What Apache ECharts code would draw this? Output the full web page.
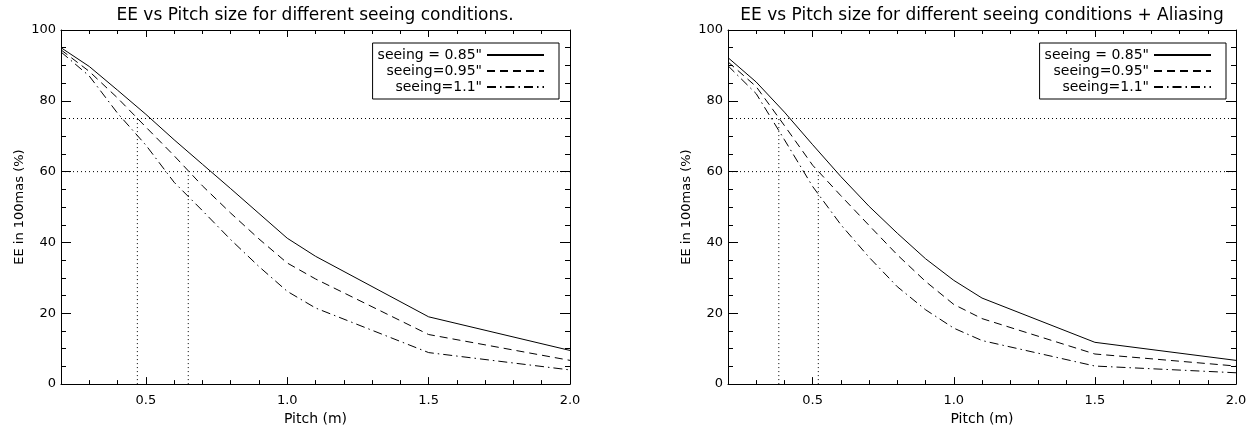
<!DOCTYPE html>
<html>
<head>
<meta charset="utf-8">
<script src="https://cdn.jsdelivr.net/npm/echarts@6/dist/echarts.min.js"></script>
<style>
  html, body { margin: 0; padding: 0; background: #fff; }
  #chart { width: 1257px; height: 431px; }
</style>
</head>
<body>
<div id="chart"></div>
<script>
// pitch (m) sampled for every curve
var pitch = [0.2, 0.3, 0.4, 0.5, 0.6, 0.7, 0.8, 0.9, 1.0, 1.1, 1.5, 2.0]

// EE in 100mas (%), no aliasing
var ee085 = [95.0, 89.7, 83.0, 76.2, 69.0, 62.1, 55.2, 48.2, 41.2, 36.1, 19.0, 9.5]
var ee095 = [94.4, 88.3, 80.8, 72.6, 64.5, 56.0, 48.3, 41.0, 34.2, 29.7, 14.0, 6.7]
var ee110 = [93.8, 87.0, 76.5, 67.5, 57.0, 49.0, 40.8, 33.2, 26.2, 21.5, 8.9, 4.0]

// EE in 100mas (%), with aliasing
var eeAl085 = [92.2, 85.3, 76.8, 67.6, 58.6, 50.2, 42.6, 35.4, 29.3, 24.3, 11.8, 6.7]
var eeAl095 = [91.0, 84.0, 73.0, 61.8, 53.2, 44.8, 36.5, 29.0, 22.5, 18.5, 8.5, 5.1]
var eeAl110 = [89.9, 82.0, 69.0, 55.8, 45.0, 35.8, 27.5, 21.0, 15.8, 12.3, 5.1, 3.2]

// dotted guide levels and where the 0.95" curve crosses them
var levels = [75, 60]
var crossNoAlias = [0.47, 0.65]
var crossAlias = [0.38, 0.52]

var names = ['seeing = 0.85"', 'seeing=0.95"', 'seeing=1.1"']
var titles = [
  'EE vs Pitch size for different seeing conditions.',
  'EE vs Pitch size for different seeing conditions + Aliasing'
]

var FONT = 'DejaVu Sans'
var majorX = [0.5, 1.0, 1.5, 2.0]
var minorX = [0.3, 0.4, 0.6, 0.7, 0.8, 0.9, 1.1, 1.2, 1.3, 1.4, 1.6, 1.7, 1.8, 1.9]
var dashes = ['solid', [8, 5], [9, 4, 1.5, 4]]

var chart = echarts.init(document.getElementById('chart'))

function xAxes(gi) {
  var base = {
    gridIndex: gi, type: 'value', min: 0.2, max: 2.0,
    splitLine: { show: false }
  }
  var line = { show: true, onZero: false, lineStyle: { color: '#000', width: 1 } }
  return [
    Object.assign({}, base, {
      position: 'bottom',
      axisLine: line,
      axisTick: { show: true, inside: true, length: 7, customValues: majorX, lineStyle: { color: '#000' } },
      axisLabel: {
        show: true, customValues: majorX, margin: 10, color: '#000', fontSize: 13, fontFamily: FONT,
        formatter: function (v) { return v.toFixed(1) }
      },
      name: 'Pitch (m)', nameLocation: 'middle', nameGap: 25,
      nameTextStyle: { color: '#000', fontSize: 14, fontFamily: FONT }
    }),
    Object.assign({}, base, {
      position: 'bottom',
      axisLine: { show: false, onZero: false },
      axisTick: { show: true, inside: true, length: 4, customValues: minorX, lineStyle: { color: '#000' } },
      axisLabel: { show: false }
    }),
    Object.assign({}, base, {
      position: 'top',
      axisLine: line,
      axisTick: { show: true, inside: true, length: 7, customValues: majorX, lineStyle: { color: '#000' } },
      axisLabel: { show: false }
    }),
    Object.assign({}, base, {
      position: 'top',
      axisLine: { show: false, onZero: false },
      axisTick: { show: true, inside: true, length: 4, customValues: minorX, lineStyle: { color: '#000' } },
      axisLabel: { show: false }
    })
  ]
}

function yAxes(gi) {
  var base = {
    gridIndex: gi, type: 'value', min: 0, max: 100, interval: 20,
    splitLine: { show: false },
    axisLine: { show: true, onZero: false, lineStyle: { color: '#000', width: 1 } },
    axisTick: { show: true, inside: true, length: 10, lineStyle: { color: '#000' } },
    minorTick: { show: true, splitNumber: 4, length: 5, lineStyle: { color: '#000' } }
  }
  return [
    Object.assign({}, base, {
      position: 'left',
      axisLabel: { color: '#000', fontSize: 13, fontFamily: FONT, margin: 5 },
      name: 'EE in 100mas (%)', nameLocation: 'middle', nameGap: 35,
      nameTextStyle: { color: '#000', fontSize: 13, fontFamily: FONT }
    }),
    Object.assign({}, base, { position: 'right', axisLabel: { show: false } })
  ]
}

function curves(gi, sets) {
  return sets.map(function (vals, k) {
    return {
      name: names[k], type: 'line', xAxisIndex: gi * 4, yAxisIndex: gi * 2,
      symbol: 'none', silent: true, z: 3,
      lineStyle: { color: '#000', width: 1, type: dashes[k] },
      data: pitch.map(function (p, i) { return [p, vals[i]] })
    }
  })
}

function guides(gi, cross) {
  var out = []
  levels.forEach(function (lv, k) {
    out.push({
      name: 'guide', type: 'line', xAxisIndex: gi * 4, yAxisIndex: gi * 2,
      symbol: 'none', silent: true, z: 2,
      lineStyle: { color: '#000', width: 1, type: [1, 3] },
      data: [[0.2, lv], [2.0, lv]]
    })
    out.push({
      name: 'guide', type: 'line', xAxisIndex: gi * 4, yAxisIndex: gi * 2,
      symbol: 'none', silent: true, z: 2,
      lineStyle: { color: '#000', width: 1, type: [1, 3] },
      data: [[cross[k], 0], [cross[k], lv]]
    })
  })
  return out
}

function legendAt(right) {
  return {
    data: names, orient: 'vertical', align: 'right', selectedMode: false,
    right: right, top: 43,
    itemWidth: 57, itemHeight: 12, itemGap: 2,
    padding: [5, 14, 5, 5],
    borderColor: '#000', borderWidth: 1, borderRadius: 0,
    itemStyle: { opacity: 0 },
    textStyle: { color: '#000', fontSize: 14, fontFamily: FONT }
  }
}

chart.setOption({
  animation: false,
  backgroundColor: '#fff',
  grid: [
    { left: 61, top: 30, width: 509, height: 361 },
    { left: 728, top: 30, width: 508, height: 361 }
  ],
  graphic: [
    { type: 'text', x: 315, y: 16, style: { text: titles[0], textAlign: 'center', textVerticalAlign: 'middle', fill: '#000', font: '17px "DejaVu Sans"' } },
    { type: 'text', x: 982, y: 16, style: { text: titles[1], textAlign: 'center', textVerticalAlign: 'middle', fill: '#000', font: '17px "DejaVu Sans"' } }
  ],
  legend: [legendAt(698), legendAt(31)],
  xAxis: xAxes(0).concat(xAxes(1)),
  yAxis: yAxes(0).concat(yAxes(1)),
  series: curves(0, [ee085, ee095, ee110])
    .concat(guides(0, crossNoAlias))
    .concat(curves(1, [eeAl085, eeAl095, eeAl110]))
    .concat(guides(1, crossAlias))
})
</script>
</body>
</html>
